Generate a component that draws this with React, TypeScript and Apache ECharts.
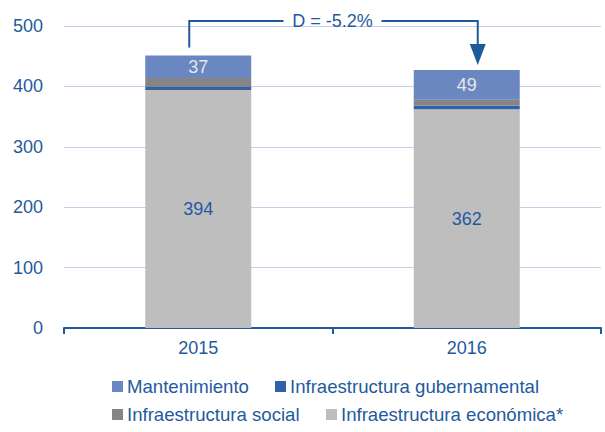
import React, { useEffect, useRef } from "react";
import * as echarts from "echarts";

const categories = ["2015", "2016"];
const economica = [394, 362];
const social = [15, 10];
const gubernamental = [5, 6];
const mantenimiento = [37, 49];
const yTicks = [0, 100, 200, 300, 400, 500];
const deltaLabel = "D = -5.2%";

const TEXT = "#1f5a9e";
const FONT = "'Liberation Sans', Arial, sans-serif";
const FS = 18;

export default function App() {
  const ref = useRef<HTMLDivElement>(null);
  useEffect(() => {
    if (!ref.current) return;
    const chart = echarts.init(ref.current, null, { renderer: "svg" });
    const legendItem = (name: string, left: number, top: number) => ({
      data: [name],
      left,
      top,
      itemWidth: 11,
      itemHeight: 11,
      icon: "rect",
      padding: 0,
      textStyle: { color: TEXT, fontSize: 18.6, fontFamily: FONT, padding: [0, 0, 0, -1] },
      selectedMode: false,
    });
    chart.setOption({
      animation: false,
      textStyle: { fontFamily: FONT },
      grid: { left: 64, right: 4, top: 26, bottom: 104 },
      legend: [
        legendItem("Mantenimiento", 112, 377),
        legendItem("Infraestructura gubernamental", 275, 377),
        legendItem("Infraestructura social", 112, 405),
        legendItem("Infraestructura económica*", 326, 405),
      ],
      xAxis: {
        type: "category",
        data: categories,
        axisLine: { lineStyle: { color: "#1f5a9e", width: 2 } },
        axisTick: { show: true, length: 6, lineStyle: { color: "#1f5a9e", width: 2 } },
        axisLabel: { color: TEXT, fontSize: FS, margin: 11, fontFamily: FONT },
      },
      yAxis: {
        type: "value",
        min: yTicks[0],
        max: yTicks[yTicks.length - 1],
        interval: 100,
        axisLine: { show: false },
        axisTick: { show: false },
        axisLabel: { color: TEXT, fontSize: FS, margin: 21, fontFamily: FONT },
        splitLine: { lineStyle: { color: "#c5cde9", width: 1 } },
      },
      series: [
        {
          name: "Infraestructura económica*",
          type: "bar",
          stack: "t",
          barWidth: 106,
          data: economica,
          itemStyle: { color: "#bebebe" },
          label: { show: true, position: "inside", color: TEXT, fontSize: FS, fontFamily: FONT },
        },
        {
          name: "Infraestructura gubernamental",
          type: "bar",
          stack: "t",
          data: gubernamental,
          itemStyle: { color: "#2e62ab" },
        },
        {
          name: "Infraestructura social",
          type: "bar",
          stack: "t",
          data: social,
          itemStyle: { color: "#858585" },
        },
        {
          name: "Mantenimiento",
          type: "bar",
          stack: "t",
          data: mantenimiento,
          itemStyle: { color: "#6a87c2" },
          label: { show: true, position: "inside", color: "#e6e6e6", fontSize: FS, fontFamily: FONT },
        },
      ],
    });

    const p0 = chart.convertToPixel({ gridIndex: 0 }, [0, 0]) as number[];
    const p1 = chart.convertToPixel({ gridIndex: 0 }, [1, 0]) as number[];
    const top0 = (chart.convertToPixel({ gridIndex: 0 }, [0, economica[0] + social[0] + gubernamental[0] + mantenimiento[0]]) as number[])[1];
    const top1 = (chart.convertToPixel({ gridIndex: 0 }, [1, economica[1] + social[1] + gubernamental[1] + mantenimiento[1]]) as number[])[1];
    const lx = p0[0] - 9;
    const rx = p1[0] + 11;
    const yTop = 21;
    const tipY = top1 - 5;
    const midX = (lx + rx) / 2 - 1;
    chart.setOption({
      graphic: [
        {
          type: "polyline",
          shape: { points: [[lx, top0 - 8], [lx, yTop], [midX - 49, yTop]] },
          style: { stroke: "#1f5a9e", lineWidth: 2, fill: null },
        },
        {
          type: "polyline",
          shape: { points: [[midX + 49, yTop], [rx, yTop], [rx, tipY - 20]] },
          style: { stroke: "#1f5a9e", lineWidth: 2, fill: null },
        },
        {
          type: "polygon",
          shape: { points: [[rx - 8, tipY - 21], [rx + 8, tipY - 21], [rx, tipY]] },
          style: { fill: "#1f5a9e" },
        },
        {
          type: "text",
          x: midX,
          y: yTop,
          style: {
            text: deltaLabel,
            fill: TEXT,
            fontSize: FS,
            fontFamily: FONT,
            align: "center",
            verticalAlign: "middle",
          },
        },
      ],
    });
    return () => chart.dispose();
  }, []);
  return <div ref={ref} style={{ width: 605, height: 432, position: "absolute", left: 0, top: 0 }} />;
}
